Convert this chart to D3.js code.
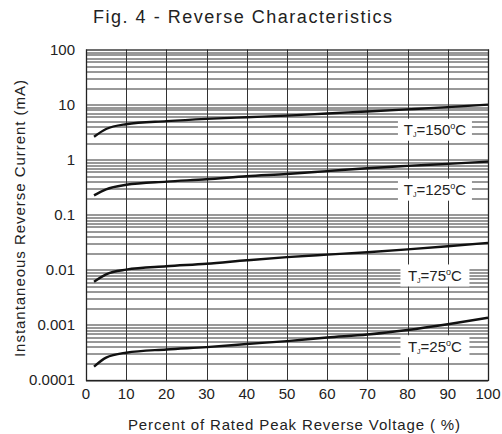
<!DOCTYPE html>
<html>
<head>
<meta charset="utf-8">
<script src="https://cdn.jsdelivr.net/npm/d3@7"></script>
<style>
  body { margin: 0; background: #fff; }
  text { font-family: "Liberation Sans", Arial, sans-serif; fill: #222; }
</style>
</head>
<body>
<div id="chart"></div>
<script>
////////////////// Data ////////////////////
var voltagePct = [2, 5, 10, 20, 30, 40, 50, 60, 70, 80, 90, 100];
var current150 = [2.6, 3.6, 4.4, 5.0, 5.5, 5.9, 6.3, 6.9, 7.5, 8.2, 9.0, 10.0];
var current125 = [0.225, 0.29, 0.35, 0.40, 0.44, 0.50, 0.55, 0.62, 0.70, 0.77, 0.84, 0.92];
var current75 = [0.0061, 0.0083, 0.0101, 0.0116, 0.0129, 0.0149, 0.0170, 0.0189, 0.0209, 0.0235, 0.0268, 0.0308];
var current25 = [0.000175, 0.000255, 0.000313, 0.000358, 0.000396, 0.00045, 0.000509, 0.00059, 0.00067, 0.00081, 0.00103, 0.00135];
var seriesTemps = ["150", "125", "75", "25"];
var labelPos = [3.5, 0.285, 0.0079, 0.00041];   // y value of each label box
var xTicks = [0, 10, 20, 30, 40, 50, 60, 70, 80, 90, 100];
var yTicks = [0.0001, 0.001, 0.01, 0.1, 1, 10, 100];
var yTickLabels = ["0.0001", "0.001", "0.01", "0.1", "1", "10", "100"];

////////////////// Chart Parameters ////////////////////
var svgWidth = 502, svgHeight = 434;
var margin = { top: 49.5, left: 86 };
var width = 402, height = 330.5;

var svg = d3.select("#chart").append("svg")
  .attr("width", svgWidth)
  .attr("height", svgHeight);

var g = svg.append("g")
  .attr("transform", `translate(${margin.left}, ${margin.top})`);

////////// Scales //////////
var x = d3.scaleLinear().domain([0, 100]).range([0, width]);
var y = d3.scaleLog().domain([0.0001, 100]).range([height, 0]);

////////// Grid //////////
var minor = [];
for (var e = -4; e < 2; e++) {
  for (var k = 1; k <= 9; k++) minor.push(k * Math.pow(10, e));
}
g.selectAll("line.hgrid").data(minor).enter().append("line")
  .attr("x1", 0).attr("x2", width)
  .attr("y1", d => Math.round(y(d)) + 0.5)
  .attr("y2", d => Math.round(y(d)) + 0.5)
  .attr("stroke", "#333").attr("stroke-width", 1);

g.selectAll("line.vgrid").data(xTicks).enter().append("line")
  .attr("x1", d => Math.round(x(d)) + 0.5)
  .attr("x2", d => Math.round(x(d)) + 0.5)
  .attr("y1", 0).attr("y2", height)
  .attr("stroke", "#333").attr("stroke-width", 1);

g.append("rect")
  .attr("x", 0.5).attr("y", 0.5)
  .attr("width", width).attr("height", height)
  .attr("fill", "none").attr("stroke", "#222").attr("stroke-width", 1.3);

////////// Curves //////////
var allSeries = [current150, current125, current75, current25];
var line = d3.line()
  .x((d, i) => x(voltagePct[i]))
  .y(d => y(d))
  .curve(d3.curveMonotoneX);

g.selectAll("path.curve").data(allSeries).enter().append("path")
  .attr("d", line)
  .attr("fill", "none")
  .attr("stroke", "#111")
  .attr("stroke-width", 2.4);

////////// Temperature labels //////////
seriesTemps.forEach(function (t, i) {
  var cx = x(86.8), cy = y(labelPos[i]);
  var bw = t.length === 3 ? 74 : 69;
  g.append("rect")
    .attr("x", cx - bw / 2).attr("y", cy - 11)
    .attr("width", bw).attr("height", 22)
    .attr("fill", "#fff");
  var txt = g.append("text")
    .attr("x", cx).attr("y", cy + 5.5)
    .attr("text-anchor", "middle")
    .style("font-size", "15px");
  txt.append("tspan").text("T");
  txt.append("tspan").text("J").style("font-size", "7px").attr("dy", 2);
  txt.append("tspan").text("=" + t).attr("dy", -2);
  txt.append("tspan").text("o").style("font-size", "9px").attr("dy", -6);
  txt.append("tspan").text("C").attr("dy", 6);
});

////////// Axis tick labels //////////
g.selectAll("text.xt").data(xTicks).enter().append("text")
  .attr("x", d => x(d))
  .attr("y", height + 19)
  .attr("text-anchor", "middle")
  .style("font-size", "15px")
  .text(d => d);

g.selectAll("text.yt").data(yTicks).enter().append("text")
  .attr("x", -11)
  .attr("y", d => y(d) + 5)
  .attr("text-anchor", "end")
  .style("font-size", "15px")
  .text((d, i) => yTickLabels[i]);

////////// Titles //////////
svg.append("text")
  .attr("x", 93).attr("y", 23)
  .attr("textLength", 299)
  .attr("lengthAdjust", "spacing")
  .style("font-size", "18px")
  .text("Fig. 4  - Reverse Characteristics");

svg.append("text")
  .attr("x", 128).attr("y", 430)
  .attr("textLength", 332)
  .attr("lengthAdjust", "spacing")
  .style("font-size", "15px")
  .text("Percent of Rated Peak Reverse Voltage ( %)");

svg.append("text")
  .attr("transform", "translate(25, 357) rotate(-90)")
  .attr("textLength", 277)
  .attr("lengthAdjust", "spacing")
  .style("font-size", "15px")
  .text("Instantaneous Reverse Current (mA)");
</script>
</body>
</html>
